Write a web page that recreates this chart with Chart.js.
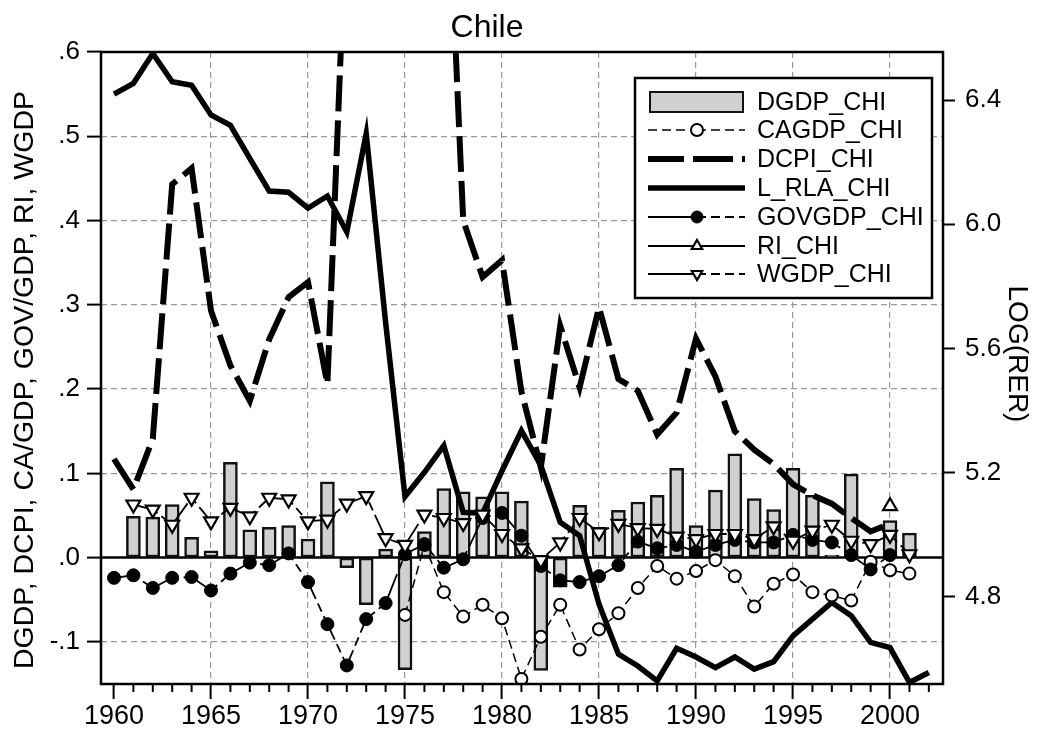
<!DOCTYPE html>
<html>
<head>
<meta charset="utf-8">
<script src="https://cdn.jsdelivr.net/npm/chart.js@4.4.0/dist/chart.umd.min.js"></script>
<style>
  html, body { margin: 0; padding: 0; background: #fff; }
  #wrap { width: 1050px; height: 733px; }
</style>
</head>
<body>
<div id="wrap"><canvas id="myChart" width="1050" height="733"></canvas></div>
<script>
// years on the x axis
const years = [
  1960, 1961, 1962, 1963, 1964, 1965, 1966, 1967, 1968, 1969,
  1970, 1971, 1972, 1973, 1974, 1975, 1976, 1977, 1978, 1979,
  1980, 1981, 1982, 1983, 1984, 1985, 1986, 1987, 1988, 1989,
  1990, 1991, 1992, 1993, 1994, 1995, 1996, 1997, 1998, 1999,
  2000, 2001, 2002
];

// series, one value per year (null = no observation)
const dgdp = [
  null, 0.049, 0.048, 0.063, 0.024, 0.008, 0.113, 0.033, 0.036, 0.038,
  0.022, 0.090, -0.012, -0.056, 0.010, -0.133, 0.031, 0.082, 0.078, 0.072,
  0.078, 0.067, -0.134, -0.035, 0.062, 0.036, 0.056, 0.066, 0.074, 0.106,
  0.038, 0.080, 0.123, 0.070, 0.057, 0.106, 0.074, 0.003, 0.099, null,
  0.044, 0.029, null
];
const cagdp = [
  null, null, null, null, null, null, null, null, null, null,
  null, null, null, null, null, -0.068, 0.015, -0.041, -0.070, -0.056,
  -0.072, -0.144, -0.094, -0.056, -0.109, -0.085, -0.066, -0.036, -0.010, -0.025,
  -0.016, -0.003, -0.022, -0.058, -0.031, -0.020, -0.041, -0.045, -0.051, -0.005,
  -0.015, -0.019, null
];
const dcpi = [
  0.117, 0.081, 0.141, 0.443, 0.462, 0.293, 0.228, 0.186, 0.259, 0.309,
  0.327, 0.206, 0.78, 3.5, 5.0, 3.7, 2.1, 0.92, 0.400, 0.333,
  0.353, 0.197, 0.107, 0.275, 0.202, 0.297, 0.212, 0.198, 0.146, 0.172,
  0.260, 0.215, 0.150, 0.128, 0.111, 0.087, 0.074, 0.064, 0.047, 0.031,
  0.040, null, null
];
const lrla = [
  6.419, 6.454, 6.550, 6.459, 6.448, 6.352, 6.319, 6.212, 6.107, 6.103,
  6.052, 6.091, 5.975, 6.292, 5.684, 5.123, 5.201, 5.287, 5.072, 5.069,
  5.206, 5.335, 5.223, 5.040, 4.997, 4.776, 4.615, 4.577, 4.529, 4.634,
  4.606, 4.572, 4.606, 4.567, 4.591, 4.674, 4.728, 4.782, 4.739, 4.653,
  4.636, 4.524, 4.556
];
const govgdp = [
  -0.024, -0.021, -0.036, -0.024, -0.023, -0.039, -0.019, -0.006, -0.009, 0.005,
  -0.029, -0.079, -0.128, -0.073, -0.054, 0.004, 0.016, -0.012, -0.002, 0.047,
  0.053, 0.026, -0.010, -0.027, -0.029, -0.022, -0.009, 0.019, 0.011, 0.015,
  0.007, 0.015, 0.021, 0.018, 0.018, 0.027, 0.021, 0.018, 0.003, -0.014,
  0.003, null, null
];
const ri = [
  null, null, null, null, null, null, null, null, null, null,
  null, null, null, null, null, null, null, null, null, null,
  null, null, null, null, null, null, null, null, null, null,
  null, null, null, null, null, null, null, null, null, null,
  0.061, null, null
];
const wgdp = [
  null, 0.063, 0.057, 0.039, 0.071, 0.043, 0.059, 0.049, 0.071, 0.069,
  0.043, 0.045, 0.064, 0.073, 0.023, 0.015, 0.051, 0.047, 0.041, 0.051,
  0.028, 0.011, -0.003, 0.018, 0.047, 0.030, 0.040, 0.035, 0.034, 0.025,
  0.022, 0.028, 0.028, 0.022, 0.037, 0.020, 0.032, 0.039, 0.020, 0.016,
  0.027, 0.004, null
];

// axis tick labels
const yearLabels = [1960, 1965, 1970, 1975, 1980, 1985, 1990, 1995, 2000];
const leftTickLabels = { "-0.1": "-.1", "0": ".0", "0.1": ".1", "0.2": ".2", "0.3": ".3", "0.4": ".4", "0.5": ".5", "0.6": ".6" };
const rightTickLabels = { "4.8": "4.8", "5.2": "5.2", "5.6": "5.6", "6": "6.0", "6.4": "6.4" };

const FONT = "'Liberation Sans', Arial, Helvetica, sans-serif";
const GRID = "#999999";

// turn a series into {x, y} points, dropping missing years
function points(values) {
  const out = [];
  for (let i = 0; i < years.length; i++) {
    if (values[i] !== null) out.push({ x: years[i], y: values[i] });
  }
  return out;
}

function roundKey(v, d) {
  return String(parseFloat(v.toFixed(d)));
}

// extra drawing: zero line, frame, minor ticks, titles, legend
const decorations = {
  id: "decorations",
  beforeDatasetsDraw(chart) {
    const ctx = chart.ctx;
    const a = chart.chartArea;
    const y0 = chart.scales.y.getPixelForValue(0);
    ctx.save();
    ctx.strokeStyle = "#000";
    ctx.lineWidth = 2.5;
    ctx.setLineDash([]);
    ctx.beginPath();
    ctx.moveTo(a.left, y0);
    ctx.lineTo(a.right, y0);
    ctx.stroke();
    ctx.restore();
  },
  afterDraw(chart) {
    const ctx = chart.ctx;
    const a = chart.chartArea;
    const xs = chart.scales.x;
    ctx.save();

    // frame around the plot
    ctx.strokeStyle = "#000";
    ctx.lineWidth = 2.5;
    ctx.setLineDash([]);
    ctx.strokeRect(a.left, a.top, a.right - a.left, a.bottom - a.top);

    // minor ticks on every year
    ctx.lineWidth = 2;
    for (const t of xs.ticks) {
      if (t.value % 5 === 0) continue;
      const px = xs.getPixelForValue(t.value);
      ctx.beginPath();
      ctx.moveTo(px, a.bottom);
      ctx.lineTo(px, a.bottom + 8);
      ctx.stroke();
    }

    // title
    ctx.fillStyle = "#000";
    ctx.font = "32px " + FONT;
    ctx.textAlign = "center";
    ctx.textBaseline = "alphabetic";
    ctx.fillText("Chile", 487, 37);

    // left axis title
    ctx.save();
    ctx.translate(33, 380);
    ctx.rotate(-Math.PI / 2);
    ctx.font = "28.5px " + FONT;
    ctx.fillText("DGDP, DCPI, CA/GDP, GOV/GDP, RI, WGDP", 0, 0);
    ctx.restore();

    // right axis title
    ctx.save();
    ctx.translate(1009, 354);
    ctx.rotate(Math.PI / 2);
    ctx.font = "28px " + FONT;
    ctx.fillText("LOG(RER)", 0, 0);
    ctx.restore();

    // legend box
    const lx = 635, ly = 78, lw = 297, lh = 220;
    ctx.fillStyle = "#fff";
    ctx.fillRect(lx, ly, lw, lh);
    ctx.strokeStyle = "#000";
    ctx.lineWidth = 2.5;
    ctx.strokeRect(lx, ly, lw, lh);

    const rowY = [102, 130, 159, 188, 217, 246, 274];
    const x1 = 648, x2 = 745, xm = 697;
    chart.data.datasets.forEach((ds, i) => {
      const y = rowY[i];
      ctx.save();
      if (ds.type === "bar") {
        ctx.fillStyle = ds.backgroundColor;
        ctx.fillRect(x1 + 2, y - 10, x2 - x1 - 4, 20);
        ctx.strokeStyle = ds.borderColor;
        ctx.lineWidth = 2;
        ctx.strokeRect(x1 + 2, y - 10, x2 - x1 - 4, 20);
      } else {
        ctx.strokeStyle = "#000";
        ctx.lineWidth = ds.borderWidth;
        ctx.lineCap = "butt";
        const left = ds.keyLeft || [];
        const right = ds.keyRight || [];
        ctx.setLineDash(left);
        ctx.beginPath();
        ctx.moveTo(x1, y);
        ctx.lineTo(xm, y);
        ctx.stroke();
        ctx.setLineDash(right);
        ctx.beginPath();
        ctx.moveTo(xm, y);
        ctx.lineTo(x2, y);
        ctx.stroke();
        ctx.setLineDash([]);
        if (ds.pointRadius > 0) {
          ctx.fillStyle = ds.pointBackgroundColor;
          ctx.strokeStyle = ds.pointBorderColor;
          ctx.lineWidth = ds.pointBorderWidth;
          Chart.helpers.drawPoint(ctx, {
            pointStyle: ds.pointStyle,
            rotation: ds.pointRotation || 0,
            radius: Math.min(ds.pointRadius, 6),
            borderWidth: ds.pointBorderWidth
          }, xm, y);
        }
      }
      ctx.restore();
      ctx.fillStyle = "#000";
      ctx.font = "25px " + FONT;
      ctx.textAlign = "left";
      ctx.textBaseline = "middle";
      ctx.fillText(ds.label, 757, y + 1);
    });

    ctx.restore();
  }
};

const ctx = document.getElementById("myChart").getContext("2d");

new Chart(ctx, {
  type: "line",
  data: {
    datasets: [
      {
        type: "bar",
        label: "DGDP_CHI",
        data: points(dgdp),
        backgroundColor: "#d0d0d0",
        borderColor: "#111",
        borderWidth: 2.5,
        borderSkipped: false,
        barThickness: 14,
        grouped: false,
        yAxisID: "y",
        order: 10
      },
      {
        label: "CAGDP_CHI",
        data: points(cagdp),
        borderColor: "#000",
        borderWidth: 1.5,
        borderDash: [9, 5],
        keyLeft: [9, 5],
        keyRight: [9, 5],
        pointStyle: "circle",
        pointRadius: 6,
        pointBackgroundColor: "#fff",
        pointBorderColor: "#000",
        pointBorderWidth: 2,
        yAxisID: "y",
        order: 5
      },
      {
        label: "DCPI_CHI",
        data: points(dcpi),
        borderColor: "#000",
        borderWidth: 6,
        borderDash: [36, 9],
        keyLeft: [36, 9],
        keyRight: [36, 9],
        pointRadius: 0,
        clip: 0,
        yAxisID: "y",
        order: 7
      },
      {
        label: "L_RLA_CHI",
        data: points(lrla),
        borderColor: "#000",
        borderWidth: 5.5,
        pointRadius: 0,
        clip: 0,
        yAxisID: "y1",
        order: 8
      },
      {
        label: "GOVGDP_CHI",
        data: points(govgdp),
        borderColor: "#000",
        borderWidth: 1.8,
        borderDash: [26, 5, 9, 5],
        keyLeft: [],
        keyRight: [9, 5],
        pointStyle: "circle",
        pointRadius: 6.5,
        pointBackgroundColor: "#000",
        pointBorderColor: "#000",
        pointBorderWidth: 1,
        yAxisID: "y",
        order: 4
      },
      {
        label: "RI_CHI",
        data: points(ri),
        borderColor: "#000",
        borderWidth: 1.8,
        keyLeft: [],
        keyRight: [],
        pointStyle: "triangle",
        pointRadius: 8,
        pointBackgroundColor: "#fff",
        pointBorderColor: "#000",
        pointBorderWidth: 2.2,
        yAxisID: "y",
        order: 2
      },
      {
        label: "WGDP_CHI",
        data: points(wgdp),
        borderColor: "#000",
        borderWidth: 1.8,
        borderDash: [26, 5, 9, 5],
        keyLeft: [],
        keyRight: [9, 5],
        pointStyle: "triangle",
        pointRotation: 180,
        pointRadius: 8,
        pointBackgroundColor: "#fff",
        pointBorderColor: "#000",
        pointBorderWidth: 2.2,
        yAxisID: "y",
        order: 3
      }
    ]
  },
  options: {
    responsive: false,
    devicePixelRatio: 1,
    animation: false,
    parsing: true,
    elements: { line: { tension: 0 } },
    layout: { padding: { top: 52, left: 0, right: 0, bottom: 0 } },
    plugins: {
      legend: { display: false },
      title: { display: false },
      tooltip: { enabled: false }
    },
    scales: {
      x: {
        type: "linear",
        position: "bottom",
        min: 1959.33,
        max: 2002.73,
        offset: false,
        afterFit(scale) { scale.height = 49; },
        border: { display: false, dash: [6, 4] },
        grid: {
          offset: false,
          drawOnChartArea: true,
          lineWidth: 1.2,
          color: (c) => (c.tick && c.tick.value % 5 === 0 && c.tick.value !== yearLabels[0]) ? GRID : "rgba(0,0,0,0)",
          tickLength: 15,
          tickWidth: 2,
          tickColor: (c) => (c.tick && c.tick.value % 5 === 0) ? "#000" : "rgba(0,0,0,0)"
        },
        ticks: {
          stepSize: 1,
          includeBounds: false,
          autoSkip: false,
          maxRotation: 0,
          padding: 1,
          color: "#000",
          font: { family: FONT, size: 27 },
          callback: (v) => yearLabels.includes(v) ? String(v) : ""
        }
      },
      y: {
        type: "linear",
        position: "left",
        min: -0.15,
        max: 0.6,
        afterFit(scale) { scale.width = 101; },
        border: { display: false, dash: [6, 4] },
        grid: {
          lineWidth: 1.2,
          color: (c) => {
            const v = c.tick ? Math.round(c.tick.value * 10) : 0;
            return (v === 0 || v === 6) ? "rgba(0,0,0,0)" : GRID;
          },
          tickLength: 14,
          tickWidth: 2,
          tickColor: "#000"
        },
        ticks: {
          stepSize: 0.1,
          includeBounds: false,
          padding: 7,
          color: "#000",
          font: { family: FONT, size: 26 },
          callback: (v) => leftTickLabels[roundKey(v, 1)] || ""
        }
      },
      y1: {
        type: "linear",
        position: "right",
        min: 4.519,
        max: 6.555,
        afterFit(scale) { scale.width = 107; },
        border: { display: false },
        grid: {
          drawOnChartArea: false,
          tickLength: 12,
          tickWidth: 2,
          tickColor: "#000"
        },
        ticks: {
          stepSize: 0.4,
          includeBounds: false,
          padding: 10,
          color: "#000",
          font: { family: FONT, size: 26 },
          callback: (v) => rightTickLabels[roundKey(v, 1)] || ""
        }
      }
    }
  },
  plugins: [decorations]
});
</script>
</body>
</html>
